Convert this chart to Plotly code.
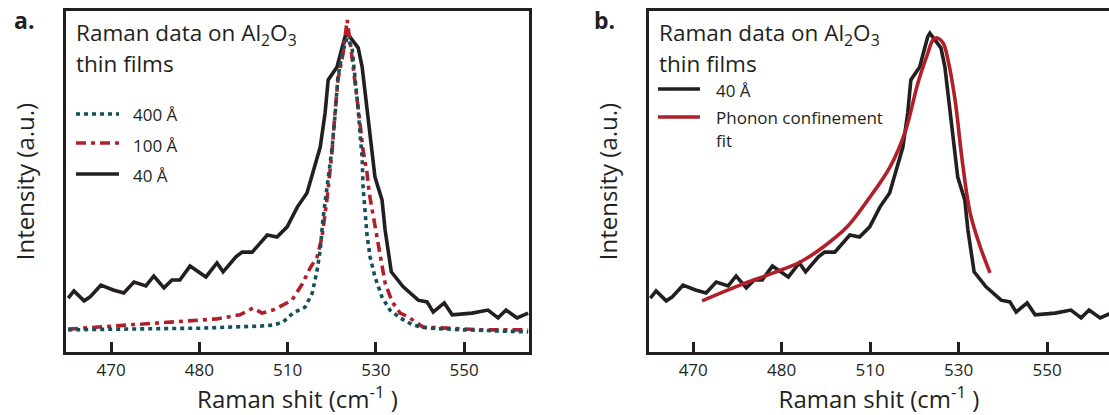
import plotly.graph_objects as go

# ---------------- data (Raman shift in axis units, intensity in a.u.) ----------------
x40 = [460.3, 461.6, 463.9, 465.2, 467.7, 470.5, 472.9, 475.2, 477.9, 479.7, 482.0, 483.8,
       485.6, 487.9, 491.5, 494.0, 495.4, 498.3, 499.7, 502.0, 505.4, 507.6, 509.9, 512.2,
       514.4, 515.8, 517.4, 518.5, 519.2, 521.2, 523.0, 523.5, 526.0, 526.9, 529.8, 531.4,
       532.1, 533.5, 536.2, 539.6, 541.6, 543.0, 545.5, 547.3, 551.8, 555.4, 557.7, 559.5,
       562.0, 564.5]
y40 = [15.8, 17.9, 15.0, 16.1, 19.6, 18.2, 17.3, 20.5, 19.4, 22.3, 18.8, 21.1,
       21.1, 25.2, 22.0, 26.1, 23.5, 27.9, 29.3, 29.3, 34.3, 33.7, 36.7, 42.5,
       46.6, 52.5, 60.1, 70.1, 79.8, 83.6, 92.4, 93.5, 89.2, 83.6, 51.3, 44.6,
       35.8, 23.5, 19.1, 15.2, 14.7, 11.7, 14.4, 10.9, 11.4, 12.3, 10.0, 12.3,
       10.0, 11.4]

x400 = [460.3, 475.0, 490.2, 503.8, 506.7, 509.0, 511.2, 514.0, 515.6, 516.7, 517.4, 518.0,
        519.0, 520.1, 520.8, 521.4, 522.4, 523.5, 524.6, 525.3, 526.0, 526.4, 526.9, 527.1,
        528.0, 528.7, 529.8, 531.4, 533.2, 535.5, 538.4, 541.6, 549.8, 564.5]
y400 = [6.5, 6.7, 7.0, 7.6, 7.9, 8.8, 11.4, 13.2, 17.3, 24.0, 29.9, 38.7,
        48.4, 60.1, 70.1, 80.6, 87.7, 92.1, 89.4, 80.6, 71.0, 64.2, 57.2, 48.4,
        34.3, 27.9, 22.0, 16.1, 12.3, 10.0, 7.9, 7.0, 6.5, 5.9]

x100 = [460.3, 467.5, 475.0, 482.7, 488.6, 494.0, 499.2, 502.2, 504.2, 506.7, 509.0, 511.0,
        513.3, 515.1, 516.7, 517.8, 519.0, 520.1, 520.8, 521.4, 522.6, 523.5, 524.2, 524.9,
        525.8, 526.4, 527.1, 528.0, 528.5, 530.3, 531.0, 532.1, 533.7, 535.5, 537.3, 540.7,
        546.1, 553.6, 564.5]
y100 = [6.7, 7.3, 7.9, 8.5, 9.1, 9.7, 10.9, 12.9, 11.4, 12.3, 13.8, 15.2,
        19.9, 24.6, 27.9, 33.7, 45.5, 59.2, 71.0, 79.8, 87.7, 97.4, 90.6, 83.6,
        74.8, 67.2, 59.2, 52.5, 46.6, 32.8, 27.9, 20.2, 14.7, 11.4, 10.3, 7.3,
        7.0, 6.5, 6.5]

xfit = [472.0, 480.6, 488.1, 494.2, 499.4, 504.8, 509.5, 514.5, 517.9, 520.8, 522.9, 524.2,
        525.1, 526.5, 527.6, 529.2, 530.8, 532.6, 534.9, 537.1]
yfit = [15.0, 19.6, 23.2, 26.4, 30.8, 36.7, 44.6, 54.3, 64.5, 78.9, 87.1, 91.5,
        92.1, 90.6, 85.6, 73.9, 56.3, 40.8, 30.8, 23.2]

tick_vals = [470, 490, 510, 530, 550]
tick_text = ["470", "480", "510", "530", "550"]

legend_a = ["400 Å", "100 Å", "40 Å"]
legend_b = ["40 Å", "Phonon confinement<br>fit"]

# ---------------- styling ----------------
INK = "#231f20"
TEAL = "#13505c"
RED = "#b11f29"
FONT = "Open Sans"
W, H = 1109, 415
LW = 3.6
DOT = "4px,4px"
DASHDOT = "10px,5px,4px,5px"

fig = go.Figure()

# panel a (black under red under teal)
fig.add_trace(go.Scatter(x=x40, y=y40, mode="lines", name=legend_a[2], showlegend=False,
                         line=dict(color=INK, width=LW), xaxis="x", yaxis="y"))
fig.add_trace(go.Scatter(x=x100, y=y100, mode="lines", name=legend_a[1], showlegend=False,
                         line=dict(color=RED, width=LW, dash=DASHDOT), xaxis="x", yaxis="y"))
fig.add_trace(go.Scatter(x=x400, y=y400, mode="lines", name=legend_a[0], showlegend=False,
                         line=dict(color=TEAL, width=LW, dash=DOT), xaxis="x", yaxis="y"))
# panel b
fig.add_trace(go.Scatter(x=x40, y=y40, mode="lines", name=legend_b[0], showlegend=False,
                         line=dict(color=INK, width=LW), xaxis="x2", yaxis="y2"))
fig.add_trace(go.Scatter(x=xfit, y=yfit, mode="lines", name=legend_b[1], showlegend=False,
                         line=dict(color=RED, width=LW, shape="spline"), xaxis="x2", yaxis="y2"))

ydom = [1 - 352 / H, 1 - 11 / H]


def xaxis_style(domain, rng, anchor):
    return dict(domain=domain, range=rng, anchor=anchor, showline=True, linecolor=INK,
                linewidth=3, mirror=True, ticks="inside", ticklen=10, tickwidth=3,
                tickcolor=INK, tickvals=tick_vals, ticktext=tick_text, showgrid=False,
                zeroline=False, ticklabelstandoff=1,
                tickfont=dict(family=FONT, size=17, color=INK),
                title=dict(text="Raman shit (cm<sup>-1</sup> )", standoff=1,
                           font=dict(family=FONT, size=24, color=INK)))


def yaxis_style(anchor, mirror):
    return dict(domain=ydom, range=[0, 100], anchor=anchor, showline=True, linecolor=INK,
                linewidth=3, mirror=mirror, showticklabels=False, ticks="", showgrid=False,
                zeroline=False,
                title=dict(text="Intensity (a.u.)", standoff=22,
                           font=dict(family=FONT, size=24, color=INK)))


fig.update_layout(
    width=W, height=H,
    margin=dict(l=0, r=0, t=0, b=0),
    paper_bgcolor="white", plot_bgcolor="white",
    font=dict(family=FONT, color=INK),
    xaxis=xaxis_style([66 / W, 529 / W], [459.8, 564.7], "y"),
    yaxis=yaxis_style("x", True),
    xaxis2=xaxis_style([649 / W, 1.0], [460.0, 564.0], "y2"),
    yaxis2=yaxis_style("x2", False),
    showlegend=False,
)


def px(x):
    return x / W


def py(y):
    return 1 - y / H


def add_text(text, x, y, size, xanchor="left"):
    fig.add_annotation(text=text, x=px(x), y=py(y), xref="paper", yref="paper",
                       xanchor=xanchor, yanchor="middle", showarrow=False,
                       font=dict(family=FONT, size=size, color=INK))


def add_key(x0, x1, y, color, dash):
    fig.add_shape(type="line", xref="paper", yref="paper", x0=px(x0), x1=px(x1),
                  y0=py(y), y1=py(y), line=dict(color=color, width=LW, dash=dash))


# panel labels and titles
add_text("<b>a.</b>", 12, 20, 23)
add_text("<b>b.</b>", 592, 20, 23)
for x0 in (74, 657):
    add_text("Raman data on Al<sub>2</sub>O<sub>3</sub>", x0, 34, 22.5)
    add_text("thin films", x0, 64, 22.5)

# legend, panel a
add_key(76, 119, 114, TEAL, DOT)
add_key(76, 119, 143, RED, DASHDOT)
add_key(76, 119, 174, INK, "solid")
add_text(legend_a[0], 131, 114, 17)
add_text(legend_a[1], 131, 145, 17)
add_text(legend_a[2], 131, 175, 17)

# legend, panel b
add_key(658, 700, 89, INK, "solid")
add_key(658, 700, 117, RED, "solid")
add_text(legend_b[0], 714, 90, 17)
add_text("Phonon confinement", 714, 117, 17)
add_text("fit", 714, 140, 17)

fig.write_html("out.html", config={"displayModeBar": False},
               post_script="document.body.style.margin='0';document.body.style.padding='0';")
